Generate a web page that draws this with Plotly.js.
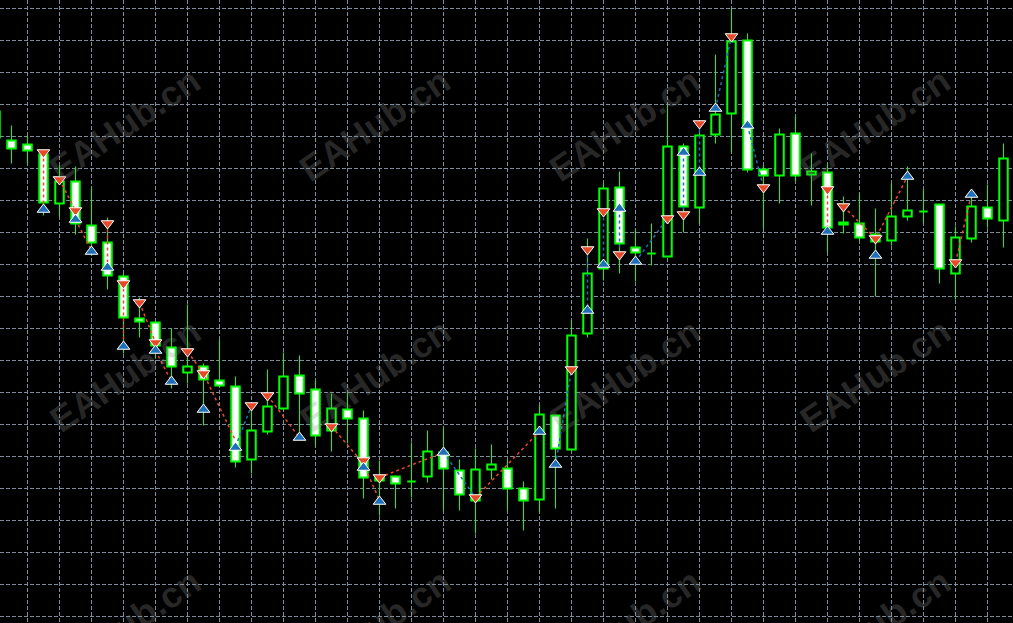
<!DOCTYPE html>
<html>
<head>
<meta charset="utf-8">
<script src="https://cdn.plot.ly/plotly-3.0.1.min.js"></script>
<style>html,body{margin:0;padding:0;background:#000;overflow:hidden}#chart{width:1013px;height:623px}</style>
</head>
<body>
<div id="chart"></div>
<script>
// OHLC prices, one candle per bar (bar index 0 = first, partly hidden candle)
const opens  = [1431.5,1430,1428,1423,1398.5,1409.5,1387.5,1379,1362,1341,1339,1326.5,1314,1317,1310,1307,1270.5,1284.5,1296,1312.5,1305.5,1285,1295.5,1291,1262,1262,1259.5,1262,1274,1265,1250,1265.5,1266,1256,1250.5,1292.5,1275.5,1333.5,1366,1406.5,1376.5,1373.5,1372,1427,1396.5,1433,1443.5,1480,1415.5,1412.5,1433.5,1413,1414,1388,1388.5,1383,1380,1392,1394.5,1398,1363.5,1381,1396.5,1390];
const highs  = [1447.5,1437.5,1432.5,1425,1417.5,1417,1406.5,1391.5,1363.5,1351.5,1339.5,1336,1348,1318.5,1330.5,1312,1295,1315.5,1324,1322.5,1310,1303.5,1304,1295,1270,1262.5,1279,1285,1286.5,1270.5,1276,1278,1270.5,1259.5,1297.5,1292.5,1340,1381,1408.5,1414.5,1385.5,1388.5,1447.5,1428.5,1436,1473,1496,1483.5,1417.5,1436,1442.5,1423.5,1418.5,1402,1403.5,1396,1408.5,1417,1405.5,1398,1387,1405,1408,1428.5];
const lows   = [1429,1418.5,1418,1392.5,1392,1383,1372.5,1355.5,1323.5,1331.5,1321,1306,1308.5,1287.5,1306.5,1266.5,1263.5,1283,1295,1281.5,1277,1274.5,1278.5,1251,1242.5,1246,1251.5,1259,1245,1245,1233.5,1260.5,1245,1235,1244,1246,1275,1331.5,1360,1363.5,1359.5,1367.5,1371.5,1384,1388.5,1428.5,1424,1414,1385.5,1398.5,1409.5,1397.5,1374,1383.5,1380,1352,1377.5,1390,1388.5,1358.5,1350.5,1379,1386.5,1376.5];
const closes = [1444.5,1426,1425,1399,1409.5,1388.5,1379,1362.5,1341.5,1339.5,1327.5,1317,1317,1310.5,1307.5,1269.5,1285,1297,1312,1303.5,1282.5,1296,1291,1261.5,1260,1258.5,1259.5,1274.5,1266,1253,1265.5,1268,1256,1250,1293,1276,1332.5,1363.5,1406,1378.5,1374,1373.5,1427,1397,1432.5,1443,1479.5,1415.5,1412.5,1433,1412.5,1414.5,1386.5,1389,1381.5,1379.5,1392,1395,1394.5,1366,1381.5,1397,1391,1421];

// Indicator signals: sell (red, down arrows) and buy (blue, up arrows)
const sellBars   = [3,4,5,7,8,9,10,12,13,16,17,21,23,24,30,36,37,38,39,42,43,44,46,48,52,53,55,60];
const sellPrices = [1424,1410.5,1395,1388.5,1358.5,1349,1329,1324.5,1313.5,1297.5,1302.5,1287,1270,1261.5,1251.5,1315.5,1375.5,1394.5,1373,1391,1393,1438.5,1482,1406.5,1405.5,1397,1381,1369];
const buyBars    = [3,5,6,7,8,10,11,13,15,19,23,24,28,34,35,37,38,39,40,43,44,45,47,52,55,57,61];
const buyPrices  = [1395.5,1390.5,1374.5,1366.5,1327,1325,1309.5,1295.5,1276.5,1281.5,1266.5,1249.5,1274,1284.5,1268,1345,1368,1396,1369.5,1424,1414,1446,1437.5,1384.5,1372.5,1412,1403];

// Indicator trend lines (null = gap)
const downLineBars   = [3,3,null,4,5,null,5,6,null,7,7,null,8,8,null,9,10,null,10,11,null,12,13,15,null,17,19,null,21,23,24,null,24,28,null,30,34,null,52,52,null,53,55,57,null,60,61];
const downLinePrices = [1424,1395.5,null,1410.5,1395,null,1390.5,1375,null,1388.5,1366,null,1359,1327,null,1349,1329,null,1325,1309.5,null,1324.5,1313.5,1280,null,1302.5,1281.5,null,1287,1268.5,1250,null,1261.5,1274,null,1251.5,1284.5,null,1405.5,1384.5,null,1397,1381,1412,null,1369,1403];
const upLineBars     = [15,16,null,28,30,null,35,36,null,37,37,null,38,38,null,39,39,null,40,42,null,43,43,null,44,44,null,45,46,null,47,48];
const upLinePrices   = [1277,1297.5,null,1274,1251.5,null,1268,1315.5,null,1375.5,1345,null,1394.5,1368,null,1396,1373,null,1369.5,1391,null,1424,1393,null,1438.5,1414,null,1446,1482,null,1437.5,1406.5];

const watermark = 'EAHub.cn';

const bars = opens.map((_, i) => i);
const GREEN = '#00ff00';

// bodies
const bodyBase = opens.map((o, i) => Math.min(o, closes[i]));
const bodySize = opens.map((o, i) => Math.abs(closes[i] - o));
const bodyFill = opens.map((o, i) => closes[i] < o ? '#ffffff' : '#000000');

// wicks (outside the body)
const wx = [], wy = [];
bars.forEach(i => {
  const top = Math.max(opens[i], closes[i]), bot = Math.min(opens[i], closes[i]);
  if (highs[i] > top) { wx.push(i, i, null); wy.push(highs[i], top, null); }
  if (lows[i] < bot) { wx.push(i, i, null); wy.push(bot, lows[i], null); }
});

const traces = [
  {type:'bar', x:bars, base:bodyBase, y:bodySize, width:0.53,
   marker:{color:bodyFill, line:{color:GREEN, width:2}}, hoverinfo:'skip'},
  {type:'scatter', mode:'lines', x:wx, y:wy, line:{color:GREEN, width:1}, hoverinfo:'skip'},
  {type:'scatter', mode:'lines', x:downLineBars, y:downLinePrices, connectgaps:false,
   line:{color:'#e8482a', width:1.5, dash:'3px,3px'}, hoverinfo:'skip'},
  {type:'scatter', mode:'lines', x:upLineBars, y:upLinePrices, connectgaps:false,
   line:{color:'#1f6fb8', width:1.5, dash:'3px,3px'}, hoverinfo:'skip'},
  {type:'scatter', mode:'markers', x:sellBars, y:sellPrices,
   marker:{symbol:'triangle-down', size:11, color:'#e8482a', line:{color:'#ffffff', width:1}}, hoverinfo:'skip'},
  {type:'scatter', mode:'markers', x:buyBars, y:buyPrices,
   marker:{symbol:'triangle-up', size:11, color:'#1f6fb8', line:{color:'#ffffff', width:1}}, hoverinfo:'skip'}
];

const annotations = [];
[125, 375, 625, 875].forEach(cx => {
  [125, 375, 625].forEach(cy => {
    annotations.push({xref:'paper', yref:'paper', x:cx/1013, y:1 - cy/623,
      xanchor:'center', yanchor:'middle', showarrow:false, textangle:-34,
      text:'<b>' + watermark + '</b>',
      font:{family:'Liberation Sans, Arial, sans-serif', size:36, color:'rgba(140,140,140,0.28)'}});
  });
});

const layout = {
  width:1013, height:623, margin:{l:0, r:0, t:0, b:0, pad:0},
  paper_bgcolor:'#000000', plot_bgcolor:'#000000', showlegend:false,
  barmode:'overlay',
  xaxis:{range:[0.28125, 63.59375], showgrid:true, gridcolor:'#7f8c9c', gridwidth:1, griddash:'4px,2px',
         tick0:2, dtick:2, showticklabels:false, ticks:'', zeroline:false, showline:false, fixedrange:true},
  yaxis:{range:[1188.75, 1500.25], showgrid:true, gridcolor:'#7f8c9c', gridwidth:1, griddash:'4px,2px',
         tick0:1496, dtick:16, showticklabels:false, ticks:'', zeroline:false, showline:false, fixedrange:true},
  annotations:annotations
};

Plotly.newPlot('chart', traces, layout, {displayModeBar:false, staticPlot:true});
</script>
</body>
</html>
